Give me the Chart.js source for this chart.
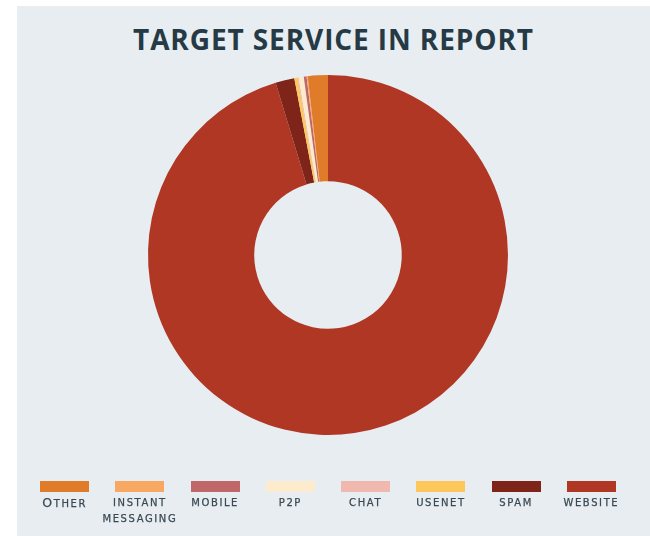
<!DOCTYPE html>
<html>
<head>
<meta charset="utf-8">
<script src="https://cdn.jsdelivr.net/npm/chart.js@4.4.1/dist/chart.umd.min.js"></script>
<style>
  html, body { margin: 0; padding: 0; background: #ffffff; }
  body { width: 650px; height: 536px; position: relative; overflow: hidden; }
  #panel { position: absolute; left: 17px; top: 6px; width: 633px; height: 530px; background: #e8edf1; }
  #chart { position: absolute; left: 0; top: 0; }
  #title {
    position: absolute; left: 17px; top: 25px; width: 633px;
    text-align: center; font-family: "Open Sans", sans-serif; font-weight: 700;
    font-size: 28px; line-height: 28px; letter-spacing: 0.9px; color: #253a45;
  }
  #legend {
    position: absolute; left: 27px; top: 481px; width: 602px;
    display: flex; flex-direction: row;
  }
  .item { width: 75.25px; display: flex; flex-direction: column; align-items: center; }
  .swatch { width: 49px; height: 11px; }
  .labelwrap { display: flex; justify-content: center; width: 100%; }
  .label {
    margin-top: 3px; max-width: 84px; flex-shrink: 0; text-align: center;
    font-family: "DejaVu Sans", sans-serif; font-size: 10px; line-height: 16px;
    text-transform: uppercase; letter-spacing: 1.6px; color: #3a4953;
    -webkit-text-stroke: 0.25px #3a4953;
  }
  .label.capital::first-letter { font-size: 12.5px; }
</style>
</head>
<body>
<div id="panel"></div>
<div id="title">TARGET SERVICE IN REPORT</div>
<canvas id="chart" width="650" height="536"></canvas>
<div id="legend"></div>
<script>
// Services, in legend order
const categories = ['Other', 'instant messaging', 'mobile', 'p2p', 'chat', 'usenet', 'spam', 'website'];
// Share of reports per service (%)
const shares = [1.8, 0.1, 0.25, 0.45, 0.1, 0.3, 1.7, 95.3];
const colors = ['#e07b2a', '#f8a862', '#c0676a', '#fdebcd', '#f0b8ae', '#fec75c', '#7e2418', '#b03724'];

// The ring runs clockwise from 12 o'clock with the legend order reversed
const ringLabels = categories.slice().reverse();
const ringValues = shares.slice().reverse();
const ringColors = colors.slice().reverse();

const chart = new Chart(document.getElementById('chart'), {
  type: 'doughnut',
  data: {
    labels: ringLabels,
    datasets: [{
      data: ringValues,
      backgroundColor: ringColors,
      borderWidth: 0,
      hoverOffset: 0
    }]
  },
  options: {
    responsive: false,
    animation: false,
    devicePixelRatio: 1,
    cutout: '41%',
    layout: { padding: { left: 148, right: 142, top: 75, bottom: 101 } },
    events: [],
    plugins: {
      legend: { display: false },
      tooltip: { enabled: false },
      title: { display: false }
    }
  }
});

// HTML legend: swatch above the label, in the original category order
const legendEl = document.getElementById('legend');
categories.forEach((name, i) => {
  const item = document.createElement('div');
  item.className = 'item';
  const sw = document.createElement('div');
  sw.className = 'swatch';
  sw.style.background = colors[i];
  const wrap = document.createElement('div');
  wrap.className = 'labelwrap';
  const lab = document.createElement('div');
  lab.className = 'label';
  if (name[0] !== name[0].toLowerCase()) lab.classList.add('capital');
  lab.textContent = name;
  wrap.appendChild(lab);
  item.appendChild(sw);
  item.appendChild(wrap);
  legendEl.appendChild(item);
});
</script>
</body>
</html>
